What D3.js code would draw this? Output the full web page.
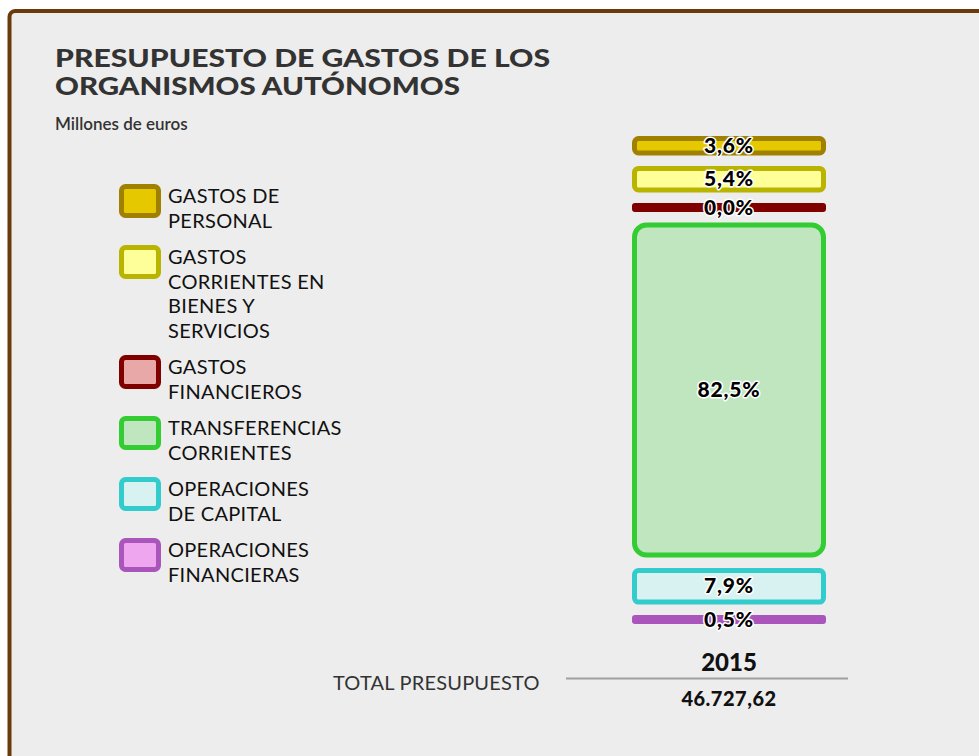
<!DOCTYPE html>
<meta charset="utf-8">
<head>
<style>
body {
  margin: 0;
  background-color: #ffffff;
}
text {
  font-family: Lato, "Open Sans", sans-serif;
}
</style>
</head>
<script src="https://d3js.org/d3.v7.min.js"></script>

<div id="my_dataviz"></div>

<script>

// data
var categories = ["GASTOS DE PERSONAL", "GASTOS CORRIENTES EN BIENES Y SERVICIOS", "GASTOS FINANCIEROS",
                  "TRANSFERENCIAS CORRIENTES", "OPERACIONES DE CAPITAL", "OPERACIONES FINANCIERAS"];
var legendLines = [["GASTOS DE", "PERSONAL"],
                   ["GASTOS", "CORRIENTES EN", "BIENES Y", "SERVICIOS"],
                   ["GASTOS", "FINANCIEROS"],
                   ["TRANSFERENCIAS", "CORRIENTES"],
                   ["OPERACIONES", "DE CAPITAL"],
                   ["OPERACIONES", "FINANCIERAS"]];
var shares = [3.6, 5.4, 0.0, 82.5, 7.9, 0.5];   // % del total
var year = "2015";
var total = 46727.62;

var width = 979, height = 756;

var svg = d3.select("#my_dataviz")
  .append("svg")
    .attr("width", width)
    .attr("height", height);

// panel
svg.append("rect")
  .attr("x", 9.5).attr("y", 11)
  .attr("width", 1100).attr("height", 900)
  .attr("rx", 6)
  .attr("fill", "#ededed")
  .attr("stroke", "#6b3a0b")
  .attr("stroke-width", 4);

// title (stretched a bit, the original face is wider)
var title = svg.append("text")
  .attr("font-size", "24px")
  .attr("font-weight", 900)
  .attr("fill", "#333333");
title.append("tspan").attr("x", 55).attr("y", 67)
  .attr("textLength", 495).attr("lengthAdjust", "spacingAndGlyphs")
  .text("PRESUPUESTO DE GASTOS DE LOS");
title.append("tspan").attr("x", 55).attr("y", 95)
  .attr("textLength", 405).attr("lengthAdjust", "spacingAndGlyphs")
  .text("ORGANISMOS AUTÓNOMOS");

svg.append("text")
  .attr("x", 55).attr("y", 130)
  .attr("font-size", "17px")
  .attr("font-weight", 600)
  .attr("fill", "#333333")
  .text("Millones de euros");

// colours
var fill = d3.scaleOrdinal()
  .domain(categories)
  .range(["#e6c800", "#ffff99", "#e8a8a8", "#c0e6c0", "#d8f2f2", "#eea6ee"]);
var stroke = d3.scaleOrdinal()
  .domain(categories)
  .range(["#a08000", "#b8b400", "#800000", "#33cc33", "#33cccc", "#aa55bb"]);

var fmt = d3.formatLocale({decimal: ",", thousands: ".", grouping: [3], currency: ["", "€"]});

// stacked column (with gaps), height from a linear scale
var y = d3.scaleLinear().domain([0, 100]).range([0, 400]);
var barX = 634.5, barW = 189, sw = 5, gap = 10.5, minH = 4;

var data = categories.map(function(c, i) { return {cat: c, v: shares[i]}; });
var cur = 138.5;
data.forEach(function(d) {
  d.h = Math.max(y(d.v), minH);
  d.y = cur;
  cur += d.h + sw + gap;
});

var bars = svg.append("g");
bars.selectAll("rect")
  .data(data)
  .enter()
  .append("rect")
    .attr("x", barX)
    .attr("y", function(d) { return d.y; })
    .attr("width", barW)
    .attr("height", function(d) { return d.h; })
    .attr("rx", function(d) { return d.h > 100 ? 12 : (d.h > minH ? 4 : 0.5); })
    .attr("fill", function(d) { return fill(d.cat); })
    .attr("stroke", function(d) { return stroke(d.cat); })
    .attr("stroke-width", sw);

bars.selectAll("text")
  .data(data)
  .enter()
  .append("text")
    .attr("x", barX + barW / 2)
    .attr("y", function(d) { return d.y + d.h / 2; })
    .attr("dy", "0.34em")
    .attr("text-anchor", "middle")
    .attr("font-size", "21px")
    .attr("font-weight", 900)
    .attr("letter-spacing", 0.8)
    .attr("fill", "#000")
    .attr("stroke", "#ffffff")
    .attr("stroke-width", 3)
    .attr("stroke-linejoin", "round")
    .attr("paint-order", "stroke")
    .text(function(d) { return fmt.format(".1f")(d.v) + "%"; });

// legend
var legend = svg.append("g");
var ly = 184;
legendLines.forEach(function(lines, i) {
  var g = legend.append("g").attr("transform", "translate(0," + ly + ")");
  g.append("rect")
    .attr("x", 121.5).attr("y", 2.5)
    .attr("width", 37).attr("height", 29)
    .attr("rx", 4)
    .attr("fill", fill(categories[i]))
    .attr("stroke", stroke(categories[i]))
    .attr("stroke-width", 5);
  var t = g.append("text")
    .attr("y", 19)
    .attr("font-size", "20px")
    .attr("letter-spacing", 0.3)
    .attr("fill", "#111111");
  lines.forEach(function(l, j) {
    t.append("tspan").attr("x", 168).attr("dy", j ? 24.5 : 0).text(l);
  });
  ly += lines.length * 24.5 + 12;
});

// total
svg.append("text")
  .attr("x", 333).attr("y", 690)
  .attr("font-size", "20px")
  .attr("letter-spacing", 0.2)
  .attr("fill", "#333333")
  .text("TOTAL PRESUPUESTO");

svg.append("line")
  .attr("x1", 566).attr("x2", 848)
  .attr("y1", 678.5).attr("y2", 678.5)
  .attr("stroke", "#a0a0a0")
  .attr("stroke-width", 2);

svg.append("text")
  .attr("x", 729).attr("y", 671)
  .attr("text-anchor", "middle")
  .attr("font-size", "24px")
  .attr("font-weight", 900)
  .attr("fill", "#111111")
  .text(year);

svg.append("text")
  .attr("x", 729).attr("y", 706)
  .attr("text-anchor", "middle")
  .attr("font-size", "20px")
  .attr("font-weight", 900)
  .attr("letter-spacing", 0.5)
  .attr("fill", "#111111")
  .text(fmt.format(",.2f")(total));

</script>
